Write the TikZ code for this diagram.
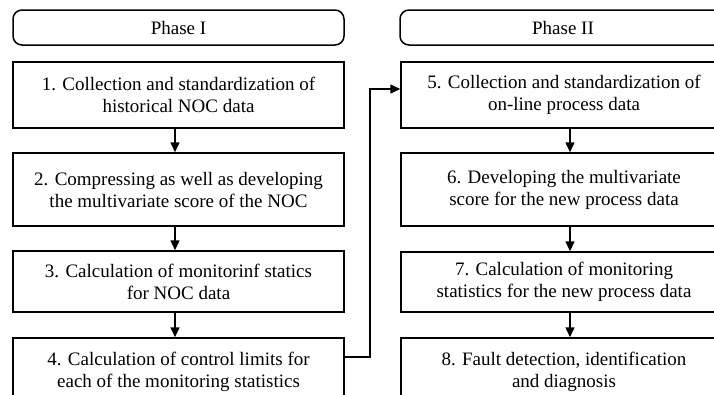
\documentclass[tikz,border=0pt]{standalone}
\usepackage{fontspec}
\setmainfont{Liberation Serif}
\usetikzlibrary{arrows.meta}

\begin{document}
\begin{tikzpicture}
  [x=1pt,y=-1pt,
   every node/.style={draw,line width=1.5pt,align=center,inner sep=0pt,
     font=\fontsize{19}{22}\selectfont},
   phase/.style={rounded corners=9pt,minimum height=35pt},
   left col/.style={minimum width=331pt},
   right col/.style={minimum width=326pt},
   arr/.style={line width=1.5pt,-{Triangle[length=10pt,width=9pt]}}]
  \useasboundingbox (0,0) rectangle (714,394);
  \clip (0,0) rectangle (714,394);

  \node[phase,left col] (p1) at (178.5,27.5) {Phase I};
  \node[phase,right col] (p2) at (563,27.5) {Phase II};

  \node[left col,minimum height=66pt] (b1) at (178.5,95) {1. Collection and standardization of\\historical NOC data};
  \node[left col,minimum height=73pt] (b2) at (178.5,189.5) {2. Compressing as well as developing\\the multivariate score of the NOC};
  \node[left col,minimum height=61pt] (b3) at (178.5,281.5) {3. Calculation of monitorinf statics\\for NOC data};
  \node[left col,minimum height=68pt] (b4) at (178.5,372) {4. Calculation of control limits for\\each of the monitoring statistics};

  \node[right col,minimum height=66pt] (b5) at (564,95) {5. Collection and standardization of\\on-line process data};
  \node[right col,minimum height=73pt] (b6) at (564,189.5) {6. Developing the multivariate\\score for the new process data};
  \node[right col,minimum height=60pt] (b7) at (564,282) {7. Calculation of monitoring\\statistics for the new process data};
  \node[right col,minimum height=68pt] (b8) at (564,372) {8. Fault detection, identification\\and diagnosis};

  \foreach \from/\to in {b1/b2,b2/b3,b3/b4}
    \draw[arr] ([xshift=-3.5pt]\from.south) -- ([xshift=-3.5pt]\to.north);
  \foreach \from/\to in {b5/b6,b6/b7,b7/b8}
    \draw[arr] ([xshift=6pt]\from.south) -- ([xshift=6pt]\to.north);

  \draw[arr] ([yshift=15pt]b4.east) -- ++(25,0) |- ([yshift=6pt]b5.west);

\end{tikzpicture}
\end{document}
